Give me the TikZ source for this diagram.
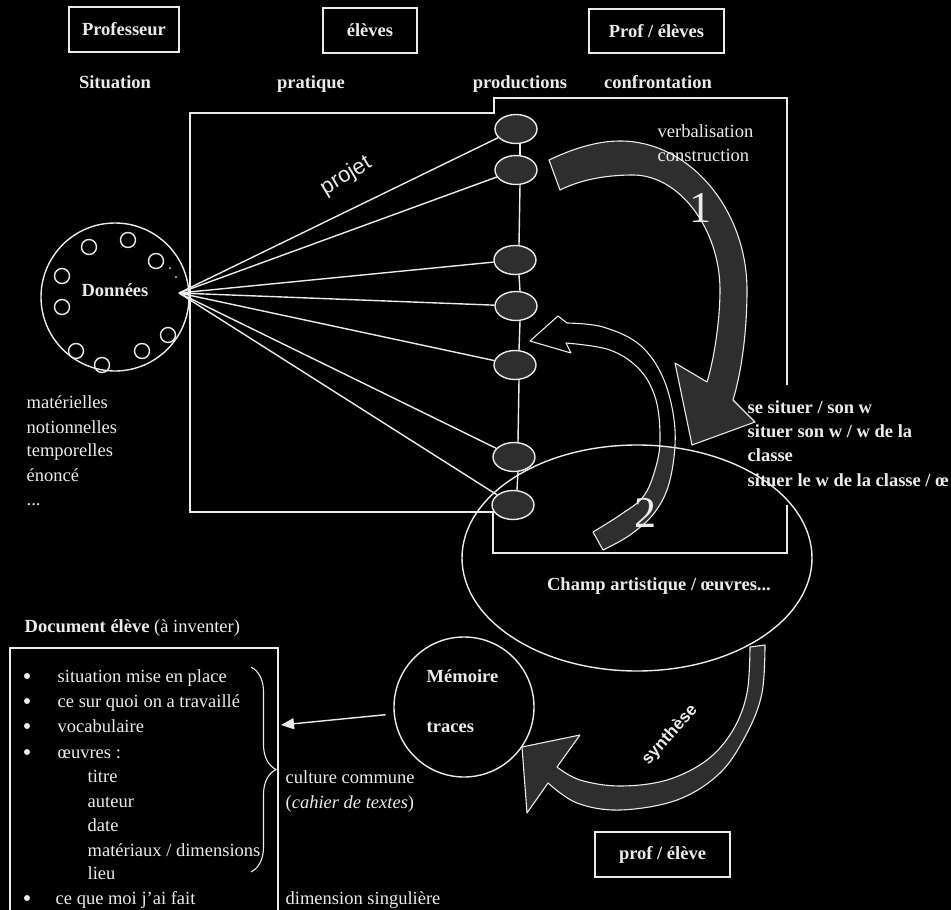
\documentclass[tikz,border=0pt]{standalone}
\usepackage{fontspec}
\setmainfont{Liberation Serif}
\newfontfamily\sansf{Liberation Sans}
\usetikzlibrary{shapes.geometric,arrows.meta,decorations.pathreplacing}
\definecolor{ink}{rgb}{0.92,0.92,0.92}
\definecolor{grainfill}{rgb}{0.18,0.18,0.18}
\newcommand\fs{\fontsize{18.5}{22}\selectfont}
\begin{document}
\begin{tikzpicture}[x=1pt,y=-1pt, line width=1.4pt, draw=ink, text=ink, font=\fs,
  lbl/.style={anchor=base west, inner sep=0pt, text=ink},
  lblc/.style={anchor=base, inner sep=0pt, text=ink},
  bf/.style={font=\fs\bfseries},
  hdrbox/.style={draw=ink, rectangle, inner sep=0pt, font=\fs\bfseries, text=ink},
  prod/.style={ellipse, draw=ink, fill=grainfill, minimum width=42pt, minimum height=29pt, inner sep=0pt},
  smallring/.style={circle, draw=ink, minimum size=15pt, inner sep=0pt},
  band/.style={fill=grainfill, draw=ink, line width=1.1pt, line join=round}]
\fill[black] (0,0) rectangle (951,910);
\useasboundingbox (0,0) rectangle (951,910);

% top header boxes
\node[hdrbox, minimum width=110pt, minimum height=45pt] (prof) at (124,29.5) {Professeur};
\node[hdrbox, minimum width=94pt, minimum height=45pt] (eleves) at (370,30.5) {élèves};
\node[hdrbox, minimum width=135pt, minimum height=44pt] (profeleves) at (656.5,31) {Prof / élèves};

% column titles
\node[lblc, bf] (situation) at (115,88) {Situation};
\node[lblc, bf] (pratique) at (311,88) {pratique};
\node[lblc, bf] (productions) at (520,88) {productions};
\node[lblc, bf] (confrontation) at (658,88) {confrontation};

% frames (pratique square + confrontation box)
\draw (787,385) -- (787,98) -- (494,98) -- (494,113) -- (190,113) -- (190,512) -- (493,512) -- (493,553) -- (787,553) -- (787,505);

% Données circle
\node[circle, draw=ink, minimum size=148pt, inner sep=0pt] (donnees) at (115,297) {};
\node[lblc, bf] (dtxt) at (115,296) {Données};
\node[smallring] (r1) at (89,247) {};
\node[smallring] (r2) at (128,240) {};
\node[smallring] (r3) at (156,261) {};
\node[smallring] (r4) at (62,276) {};
\node[smallring] (r5) at (62,307) {};
\node[smallring] (r6) at (168,335) {};
\node[smallring] (r7) at (142,351) {};
\node[smallring] (r8) at (76,351) {};
\node[smallring] (r9) at (102,365) {};
\fill[ink] (170,268) circle (1);
\fill[ink] (176,277) circle (1);

% productions
\node[prod] (e1) at (516,129) {};
\node[prod] (e2) at (516,170) {};
\node[prod] (e3) at (515,260) {};
\node[prod] (e4) at (516,306) {};
\node[prod] (e5) at (515,365) {};
\node[prod] (e6) at (514,457) {};
\node[prod] (e7) at (513,505) {};
\foreach \a/\b in {e1/e2,e2/e3,e3/e4,e4/e5,e5/e6,e6/e7}
  \draw ([xshift=4pt]\a.south) -- ([xshift=4pt]\b.north);

\coordinate (fan) at (179,293);
\foreach \e in {e1,e2,e3,e4,e5,e6,e7}
  \draw (fan) -- (\e);
\node[rotate=31, inner sep=0pt, font=\sansf\fontsize{22}{22}\selectfont] (projet) at (346,176) {projet};

% arrow 1
\draw[band] (549,160) .. controls (570,150) and (595,141) .. (620,141)
  .. controls (690,141) and (747,210) .. (747,290)
  .. controls (747,330) and (742,370) .. (733,400)
  -- (755,422) -- (692,445) -- (675,363) -- (707,382)
  .. controls (714,360) and (720,320) .. (720,290)
  .. controls (720,230) and (680,175) .. (633,175)
  .. controls (605,175) and (580,180) .. (560,190) -- cycle;
\node[lblc, font=\fontsize{44}{44}\selectfont] (one) at (700,222) {1};
\node[lbl] (verb) at (657,137) {verbalisation};
\node[lbl] (constr) at (657,161) {construction};

% arrow 2 (fill only inside the ellipse)
\begin{scope}
\clip (637,558) ellipse [x radius=175, y radius=113];
\fill[grainfill] (530,341) -- (558,316) -- plot[smooth, tension=0.6] coordinates {(567,323) (603,327) (640,345) (664,380) (675,430) (670,480) (655,512) (630,535) (603,550)} -- plot[smooth, tension=0.6] coordinates {(593,532) (620,515) (643,497) (655,470) (660,440) (656,400) (640,370) (610,350) (566,343)} -- (571,353) -- cycle;
\end{scope}
\draw[line width=1.1pt, line join=round] (530,341) -- (558,316) -- plot[smooth, tension=0.6] coordinates {(567,323) (603,327) (640,345) (664,380) (675,430) (670,480) (655,512) (630,535) (603,550)} -- plot[smooth, tension=0.6] coordinates {(593,532) (620,515) (643,497) (655,470) (660,440) (656,400) (640,370) (610,350) (566,343)} -- (571,353) -- cycle;
\node[lblc, font=\fontsize{44}{44}\selectfont] (two) at (645,527) {2};

% Champ artistique ellipse
\node[ellipse, draw=ink, minimum width=350pt, minimum height=226pt, inner sep=0pt] (champ) at (637,558) {};
\node[lblc, bf] (champtxt) at (659,590) {Champ artistique / œuvres...};

% right texts
\node[lbl, bf] (s1) at (747,413) {se situer / son w};
\node[lbl, bf] (s2) at (747,437) {situer son w / w de la};
\node[lbl, bf] (s3) at (747,461) {classe};
\node[lbl, bf] (s4) at (747,486) {situer le w de la classe / œ};

% left list
\node[lbl] (m1) at (26,408) {matérielles};
\node[lbl] (m2) at (26,433) {notionnelles};
\node[lbl] (m3) at (26,456) {temporelles};
\node[lbl] (m4) at (26,481) {énoncé};
\node[lbl] (m5) at (26,505) {...};

% Mémoire
\node[circle, draw=ink, minimum size=140pt, inner sep=0pt] (mem) at (464,707) {};
\node[lbl, bf] (memtxt) at (426,682) {Mémoire};
\node[lbl, bf] (traces) at (426,732) {traces};

% synthèse arrow
\draw[band] plot[smooth, tension=0.6] coordinates {(765,645) (762,693) (747,733) (720,773) (677,800) (620,810) (577,803) (548,783)} -- (527,813) -- (522,747) -- (580,735) -- plot[smooth, tension=0.6] coordinates {(557,767) (580,780) (620,786) (667,780) (707,760) (733,730) (747,693) (750,647)} -- cycle;
\node[rotate=48, inner sep=0pt, font=\sansf\fontsize{17}{17}\selectfont\bfseries] (synth) at (670,735) {synthèse};

\node[hdrbox, minimum width=135pt, minimum height=45pt] (profeleve) at (662.5,854.5) {prof / élève};

% Document élève
\node[lbl] (doctitle) at (24,632) {\textbf{Document élève} (à inventer)};
\draw (10,915) -- (10,648) -- (278,648) -- (278,915);
\foreach \y in {682,707,732,758,904}
  \fill[ink] (27,\y-6) circle (3);
\node[lbl] (i1) at (57,682) {situation mise en place};
\node[lbl] (i2) at (57,707) {ce sur quoi on a travaillé};
\node[lbl] (i3) at (57,732) {vocabulaire};
\node[lbl] (i4) at (57,758) {œuvres :};
\node[lbl] (i5) at (87,782) {titre};
\node[lbl] (i6) at (87,807) {auteur};
\node[lbl] (i7) at (87,831) {date};
\node[lbl] (i8) at (87,856) {matériaux / dimensions};
\node[lbl] (i9) at (87,879) {lieu};
\node[lbl] (i10) at (55,904) {ce que moi j'ai fait};
\draw[line width=1.1pt, decorate, decoration={brace, amplitude=25pt}] (251,667) -- (251,872);
\node[lbl] (cult) at (285,783) {culture commune};
\node[lbl] (cahier) at (285,808) {(\textit{cahier de textes})};
\node[lbl] (dimsing) at (285,904) {dimension singulière};

\coordinate (doctip) at (281,725);
\draw[-{Triangle[length=13pt,width=11pt,fill=ink]}, shorten <=8pt] (mem) -- (doctip);
\end{tikzpicture}
\end{document}
